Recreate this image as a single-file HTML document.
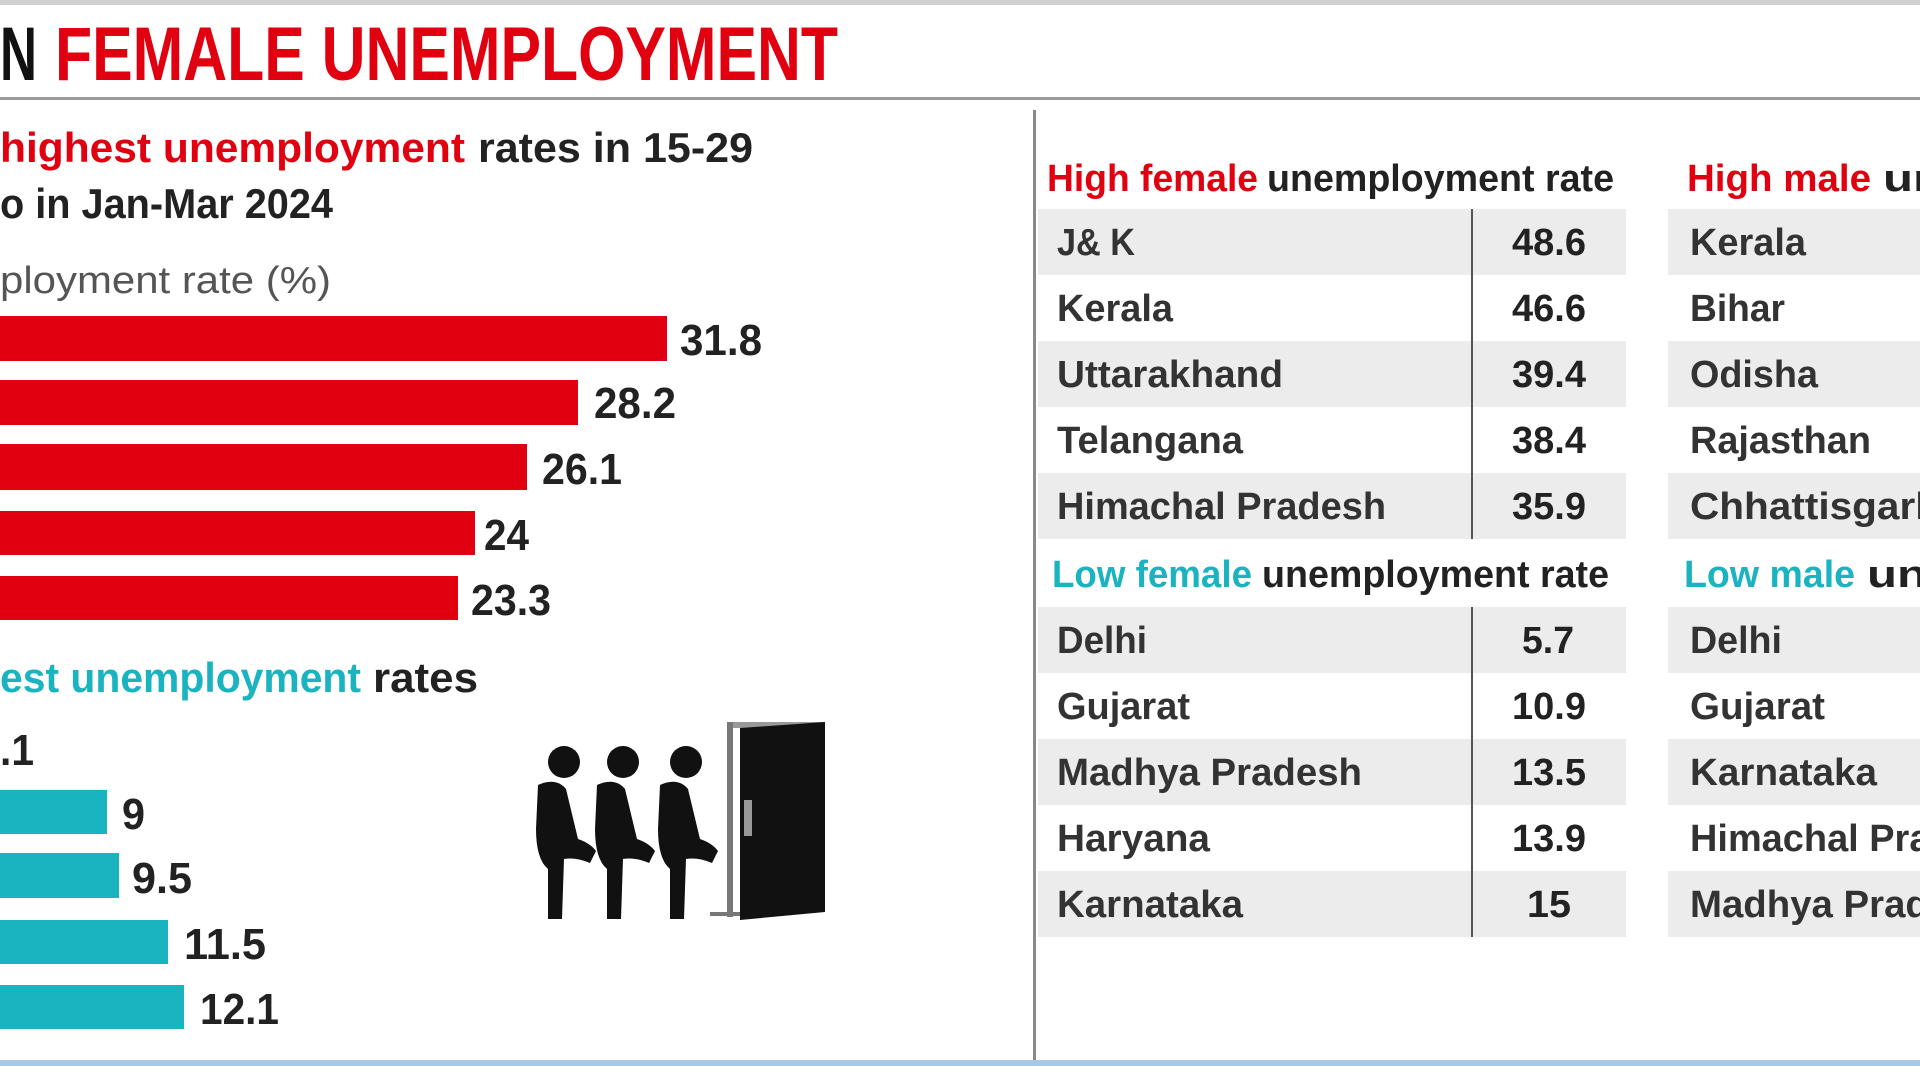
<!DOCTYPE html>
<html><head><meta charset="utf-8"><style>
html,body{margin:0;padding:0;background:#fff;width:1920px;height:1080px;overflow:hidden}
svg{display:block}
text{font-family:"Liberation Sans",sans-serif;font-weight:bold}
</style></head><body>
<svg width="1920" height="1080" viewBox="0 0 1920 1080" xmlns="http://www.w3.org/2000/svg">
<rect x="0" y="0" width="1920" height="5" fill="#d0d0d0"/>
<text x="0" y="80" font-size="76" textLength="37" lengthAdjust="spacingAndGlyphs" fill="#111">N</text>
<text x="55" y="80" font-size="76" textLength="783" lengthAdjust="spacingAndGlyphs" fill="#e00010">FEMALE UNEMPLOYMENT</text>
<rect x="0" y="97" width="1920" height="3" fill="#9a9a9a"/>
<rect x="1033" y="110" width="3" height="950" fill="#888"/>
<rect x="0" y="1060" width="1920" height="6" fill="#a8c8e8"/>

<text x="0" y="162" font-size="42" textLength="465" lengthAdjust="spacingAndGlyphs" fill="#e00010">highest unemployment</text>
<text x="478" y="162" font-size="42" textLength="275" lengthAdjust="spacingAndGlyphs" fill="#222">rates in 15-29</text>
<text x="0" y="218" font-size="42" textLength="333" lengthAdjust="spacingAndGlyphs" fill="#222">o in Jan-Mar 2024</text>
<text x="0" y="293" font-size="38" font-weight="normal" style="font-weight:normal" textLength="331" lengthAdjust="spacingAndGlyphs" fill="#555">ployment rate (%)</text>

<g fill="#e00010">
<rect x="0" y="316" width="667" height="45"/>
<rect x="0" y="380" width="578" height="45"/>
<rect x="0" y="444" width="527" height="46"/>
<rect x="0" y="511" width="475" height="44"/>
<rect x="0" y="576" width="458" height="44"/>
</g>
<g fill="#222" font-size="44">
<text x="680" y="355" textLength="82" lengthAdjust="spacingAndGlyphs">31.8</text>
<text x="594" y="418" textLength="82" lengthAdjust="spacingAndGlyphs">28.2</text>
<text x="542" y="484" textLength="80" lengthAdjust="spacingAndGlyphs">26.1</text>
<text x="484" y="550" textLength="45" lengthAdjust="spacingAndGlyphs">24</text>
<text x="471" y="615" textLength="80" lengthAdjust="spacingAndGlyphs">23.3</text>
</g>

<text x="0" y="692" font-size="42" textLength="361" lengthAdjust="spacingAndGlyphs" fill="#1ab3c0">est unemployment</text>
<text x="373" y="692" font-size="42" textLength="105" lengthAdjust="spacingAndGlyphs" fill="#222">rates</text>
<text x="0" y="765" font-size="44" textLength="34" lengthAdjust="spacingAndGlyphs" fill="#222">.1</text>
<g fill="#1ab3c0">
<rect x="0" y="790" width="107" height="44"/>
<rect x="0" y="853" width="119" height="45"/>
<rect x="0" y="920" width="168" height="44"/>
<rect x="0" y="985" width="184" height="44"/>
</g>
<g fill="#222" font-size="44">
<text x="122" y="829" textLength="23" lengthAdjust="spacingAndGlyphs">9</text>
<text x="132" y="893" textLength="60" lengthAdjust="spacingAndGlyphs">9.5</text>
<text x="184" y="959" textLength="82" lengthAdjust="spacingAndGlyphs">11.5</text>
<text x="200" y="1024" textLength="79" lengthAdjust="spacingAndGlyphs">12.1</text>
</g>

<!-- icon -->
<g fill="#111">
<circle cx="564" cy="762" r="16"/><circle cx="623" cy="762" r="16"/><circle cx="686" cy="762" r="16"/>
<g id="p"><path d="M538 785 q18 -8 28 4 l12 50 q12 4 18 12 l-6 12 q-14 -6 -26 -4 l-2 60 l-14 0 l0 -50 q-12 -10 -12 -40 z"/></g>
<path transform="translate(59 0)" d="M538 785 q18 -8 28 4 l12 50 q12 4 18 12 l-6 12 q-14 -6 -26 -4 l-2 60 l-14 0 l0 -50 q-12 -10 -12 -40 z"/>
<path transform="translate(122 0)" d="M538 785 q18 -8 28 4 l12 50 q12 4 18 12 l-6 12 q-14 -6 -26 -4 l-2 60 l-14 0 l0 -50 q-12 -10 -12 -40 z"/>
<rect x="727" y="722" width="98" height="6" fill="#999"/>
<rect x="727" y="722" width="6" height="195" fill="#777"/>
<rect x="710" y="912" width="30" height="4" fill="#777"/>
<path d="M740 728 L825 722 L825 912 L740 920 Z"/>
<rect x="744" y="800" width="8" height="36" fill="#999"/>
</g>

<!-- right tables -->
<g fill="#ececec">
<rect x="1038" y="209" width="588" height="66"/>
<rect x="1038" y="341" width="588" height="66"/>
<rect x="1038" y="473" width="588" height="66"/>
<rect x="1038" y="607" width="588" height="66"/>
<rect x="1038" y="739" width="588" height="66"/>
<rect x="1038" y="871" width="588" height="66"/>
<rect x="1668" y="209" width="252" height="66"/>
<rect x="1668" y="341" width="252" height="66"/>
<rect x="1668" y="473" width="252" height="66"/>
<rect x="1668" y="607" width="252" height="66"/>
<rect x="1668" y="739" width="252" height="66"/>
<rect x="1668" y="871" width="252" height="66"/>
</g>
<rect x="1471" y="209" width="2" height="330" fill="#555"/>
<rect x="1471" y="607" width="2" height="330" fill="#555"/>

<g font-size="38">
<text x="1047" y="191" textLength="211" lengthAdjust="spacingAndGlyphs" fill="#e00010">High female</text>
<text x="1267" y="191" textLength="347" lengthAdjust="spacingAndGlyphs" fill="#222">unemployment rate</text>
<text x="1052" y="587" textLength="200" lengthAdjust="spacingAndGlyphs" fill="#1ab3c0">Low female</text>
<text x="1262" y="587" textLength="347" lengthAdjust="spacingAndGlyphs" fill="#222">unemployment rate</text>
<text x="1687" y="191" textLength="184" lengthAdjust="spacingAndGlyphs" fill="#e00010">High male</text>
<text x="1883" y="191" textLength="60" lengthAdjust="spacingAndGlyphs" fill="#222">un</text>
<text x="1684" y="587" textLength="171" lengthAdjust="spacingAndGlyphs" fill="#1ab3c0">Low male</text>
<text x="1867" y="587" textLength="60" lengthAdjust="spacingAndGlyphs" fill="#222">un</text>
</g>
<g font-size="38" fill="#333" style="font-weight:normal">
<text x="1057" y="255" textLength="78" lengthAdjust="spacingAndGlyphs">J&amp; K</text>
<text x="1057" y="321" textLength="116" lengthAdjust="spacingAndGlyphs">Kerala</text>
<text x="1057" y="387" textLength="226" lengthAdjust="spacingAndGlyphs">Uttarakhand</text>
<text x="1057" y="453" textLength="186" lengthAdjust="spacingAndGlyphs">Telangana</text>
<text x="1057" y="519" textLength="329" lengthAdjust="spacingAndGlyphs">Himachal Pradesh</text>
<text x="1057" y="653" textLength="90" lengthAdjust="spacingAndGlyphs">Delhi</text>
<text x="1057" y="719" textLength="133" lengthAdjust="spacingAndGlyphs">Gujarat</text>
<text x="1057" y="785" textLength="305" lengthAdjust="spacingAndGlyphs">Madhya Pradesh</text>
<text x="1057" y="851" textLength="153" lengthAdjust="spacingAndGlyphs">Haryana</text>
<text x="1057" y="917" textLength="186" lengthAdjust="spacingAndGlyphs">Karnataka</text>
<text x="1690" y="255" textLength="116" lengthAdjust="spacingAndGlyphs">Kerala</text>
<text x="1690" y="321" textLength="95" lengthAdjust="spacingAndGlyphs">Bihar</text>
<text x="1690" y="387" textLength="128" lengthAdjust="spacingAndGlyphs">Odisha</text>
<text x="1690" y="453" textLength="181" lengthAdjust="spacingAndGlyphs">Rajasthan</text>
<text x="1690" y="519" textLength="250" lengthAdjust="spacingAndGlyphs">Chhattisgarh</text>
<text x="1690" y="653" textLength="92" lengthAdjust="spacingAndGlyphs">Delhi</text>
<text x="1690" y="719" textLength="135" lengthAdjust="spacingAndGlyphs">Gujarat</text>
<text x="1690" y="785" textLength="187" lengthAdjust="spacingAndGlyphs">Karnataka</text>
<text x="1690" y="851" textLength="329" lengthAdjust="spacingAndGlyphs">Himachal Pradesh</text>
<text x="1690" y="917" textLength="305" lengthAdjust="spacingAndGlyphs">Madhya Pradesh</text>
</g>
<g font-size="38" fill="#222" text-anchor="middle">
<text x="1549" y="255" textLength="74" lengthAdjust="spacingAndGlyphs">48.6</text>
<text x="1549" y="321" textLength="74" lengthAdjust="spacingAndGlyphs">46.6</text>
<text x="1549" y="387" textLength="74" lengthAdjust="spacingAndGlyphs">39.4</text>
<text x="1549" y="453" textLength="74" lengthAdjust="spacingAndGlyphs">38.4</text>
<text x="1549" y="519" textLength="74" lengthAdjust="spacingAndGlyphs">35.9</text>
<text x="1548" y="653" textLength="52" lengthAdjust="spacingAndGlyphs">5.7</text>
<text x="1549" y="719" textLength="74" lengthAdjust="spacingAndGlyphs">10.9</text>
<text x="1549" y="785" textLength="74" lengthAdjust="spacingAndGlyphs">13.5</text>
<text x="1549" y="851" textLength="74" lengthAdjust="spacingAndGlyphs">13.9</text>
<text x="1549" y="917" textLength="44" lengthAdjust="spacingAndGlyphs">15</text>
</g>
</svg>
</body></html>
